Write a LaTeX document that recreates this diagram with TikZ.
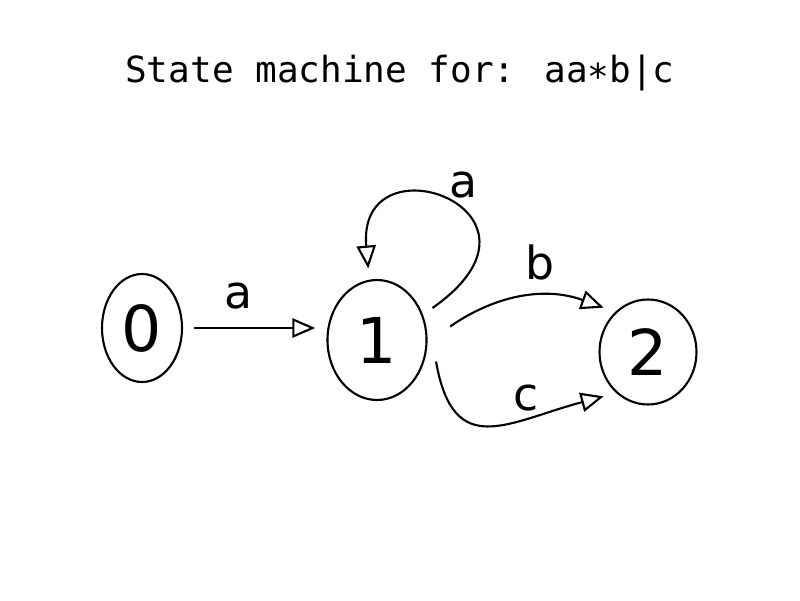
\documentclass[tikz,border=0pt]{standalone}
\usepackage{fontspec}
\usepackage{tikz}
\usetikzlibrary{arrows.meta,shapes.geometric}
\newfontfamily\titlefont{DejaVu Sans Mono}
\newfontfamily\handfont{DejaVu Sans}

\begin{document}
\begin{tikzpicture}[
    >={Triangle[open,length=13pt,width=11pt]},
    state/.style={ellipse, draw, line width=1.2pt, inner sep=0pt, outer sep=7pt, font=\handfont\fontsize{36}{36}\selectfont},
    lbl/.style={font=\handfont\fontsize{26}{26}\selectfont},
    trans/.style={->, line width=1.2pt}
]
    \useasboundingbox (0,0) rectangle (16,12);
    \node[anchor=base, font=\titlefont\fontsize{20.5}{25}\selectfont] (title) at (8,10.34) {State machine for: aa∗b|c};

    \node[state, minimum width=1.6cm, minimum height=2.16cm] at (2.84,5.44) (s0) {0};
    \node[state, minimum width=1.98cm, minimum height=2.4cm] at (7.54,5.2) (s1) {1};
    \node[state, minimum width=1.94cm, minimum height=2.1cm] at (12.96,4.96) (s2) {2};

    \draw[trans] (s0.east) -- (s0.east -| s1.west);
    \draw[trans] (s1.30) to[out=35, in=95, out distance=3.4cm, in distance=2.7cm] (s1.97);
    \draw[trans, shorten <=8pt] (s1.5) to[out=35, in=160] (s2.135);
    \draw[trans] (s1.-20) to[out=-80, in=195, looseness=1.5] (s2.225);

    \node[lbl] (la0) at (4.76,6.08) {a};
    \node[lbl] (la1) at (9.26,8.3) {a};
    \node[lbl] (lb) at (10.8,6.76) {b};
    \node[lbl] (lc) at (10.52,4.04) {c};
\end{tikzpicture}
\end{document}
